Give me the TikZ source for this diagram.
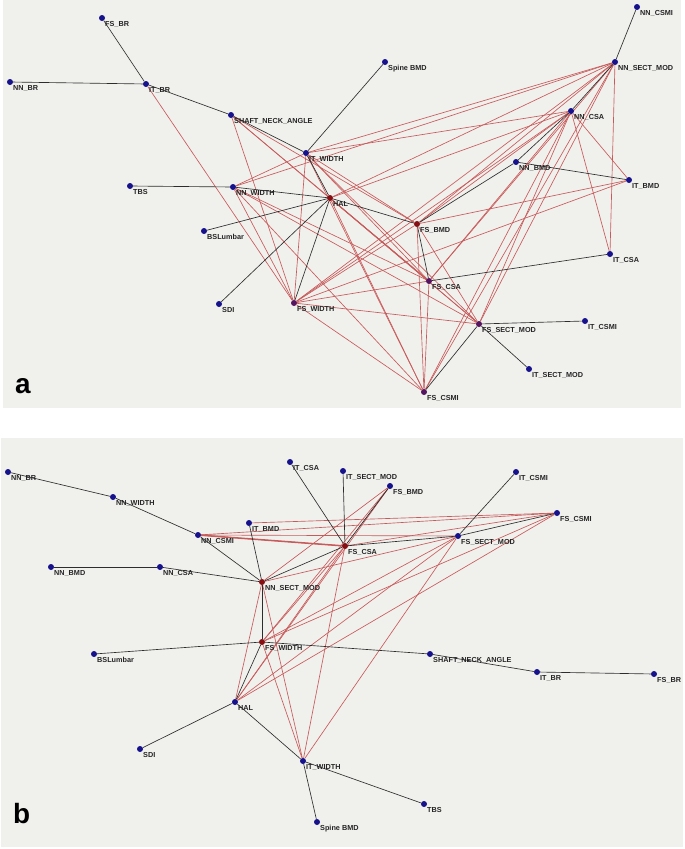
\documentclass[tikz,border=0pt]{standalone}
\usepackage{fontspec}
\setmainfont{Liberation Sans}
\pgfdeclarelayer{bg}
\pgfdeclarelayer{edges}
\pgfsetlayers{bg,edges,main}
\definecolor{panel}{RGB}{240,240,237}
\definecolor{dotblue}{RGB}{22,18,140}
\definecolor{dotred}{RGB}{135,15,20}
\definecolor{dotpurple}{RGB}{85,20,95}
\definecolor{redline}{RGB}{200,90,90}
\definecolor{blackline}{RGB}{45,45,45}
\tikzset{
  dot/.style={circle,fill=dotblue,inner sep=0pt,minimum size=6bp},
  rdot/.style={dot,fill=dotred},
  pdot/.style={dot,fill=dotpurple},
  lbl/.style={font=\bfseries\fontsize{7.3}{8}\selectfont,inner sep=0pt,anchor=north west,text=black!85},
  bl/.style={draw=blackline,line width=0.65bp},
  rl/.style={draw=redline,line width=0.65bp},
  letter/.style={font=\bfseries\fontsize{28}{28}\selectfont,inner sep=0pt,anchor=base west}
}
\newcommand\mynode[4]{\node[#1] (#2) at (#3) {};\node[lbl] (#2l) at ([xshift=3bp,yshift=-3.5bp]#2.center) {#4};}
\begin{document}
\begin{tikzpicture}[x=1bp,y=-1bp]
\useasboundingbox (0,0) rectangle (685,849);
\begin{pgfonlayer}{bg}
\fill[panel] (3,0) rectangle (681,408);
\fill[panel] (1,438) rectangle (683,847);
\end{pgfonlayer}
% ---------- panel a ----------
\mynode{dot}{aFSBR}{102,18}{FS\_BR}
\mynode{dot}{aNNBR}{10,82}{NN\_BR}
\mynode{dot}{aITBR}{146,84}{IT\_BR}
\mynode{dot}{aSNA}{231,115}{SHAFT\_NECK\_ANGLE}
\mynode{dot}{aITW}{306,153}{IT\_WIDTH}
\mynode{dot}{aTBS}{130,186}{TBS}
\mynode{dot}{aNNW}{233,187}{NN\_WIDTH}
\mynode{rdot}{aHAL}{330,198}{HAL}
\mynode{dot}{aNNCSMI}{637,7}{NN\_CSMI}
\mynode{dot}{aSpine}{385,62}{Spine BMD}
\mynode{dot}{aNNSM}{615,62}{NN\_SECT\_MOD}
\mynode{dot}{aNNCSA}{571,111}{NN\_CSA}
\mynode{dot}{aNNBMD}{516,162}{NN\_BMD}
\mynode{dot}{aITBMD}{629,180}{IT\_BMD}
\mynode{dot}{aBSL}{204,231}{BSLumbar}
\mynode{dot}{aSDI}{219,304}{SDI}
\mynode{pdot}{aFSW}{294,303}{FS\_WIDTH}
\mynode{rdot}{aFSBMD}{417,224}{FS\_BMD}
\mynode{dot}{aITCSA}{610,254}{IT\_CSA}
\mynode{pdot}{aFSCSA}{429,281}{FS\_CSA}
\mynode{pdot}{aFSSM}{479,324}{FS\_SECT\_MOD}
\mynode{dot}{aITCSMI}{585,321}{IT\_CSMI}
\mynode{dot}{aITSM}{529,369}{IT\_SECT\_MOD}
\mynode{pdot}{aFSCSMI}{424,392}{FS\_CSMI}
\node[letter] (la) at (15,393) {a};
% ---------- panel b ----------
\mynode{dot}{bNNBR}{8,472}{NN\_BR}
\mynode{dot}{bNNW}{113,497}{NN\_WIDTH}
\mynode{dot}{bNNCSMI}{198,535}{NN\_CSMI}
\mynode{dot}{bITBMD}{249,523}{IT\_BMD}
\mynode{dot}{bITCSA}{290,462}{IT\_CSA}
\mynode{dot}{bNNBMD}{51,567}{NN\_BMD}
\mynode{dot}{bNNCSA}{160,567}{NN\_CSA}
\mynode{rdot}{bNNSM}{262,582}{NN\_SECT\_MOD}
\mynode{dot}{bITSM}{343,471}{IT\_SECT\_MOD}
\mynode{dot}{bFSBMD}{390,486}{FS\_BMD}
\mynode{dot}{bITCSMI}{516,472}{IT\_CSMI}
\mynode{dot}{bFSCSMI}{557,513}{FS\_CSMI}
\mynode{rdot}{bFSCSA}{345,546}{FS\_CSA}
\mynode{dot}{bFSSM}{458,536}{FS\_SECT\_MOD}
\mynode{rdot}{bFSW}{262,642}{FS\_WIDTH}
\mynode{dot}{bBSL}{94,654}{BSLumbar}
\mynode{dot}{bHAL}{235,702}{HAL}
\mynode{dot}{bSDI}{140,749}{SDI}
\mynode{dot}{bITW}{303,761}{IT\_WIDTH}
\mynode{dot}{bSpine}{317,822}{Spine BMD}
\mynode{dot}{bSNA}{430,654}{SHAFT\_NECK\_ANGLE}
\mynode{dot}{bITBR}{537,672}{IT\_BR}
\mynode{dot}{bFSBR}{654,674}{FS\_BR}
\mynode{dot}{bTBS}{424,804}{TBS}
\node[letter] (lb) at (13,823) {b};
\begin{pgfonlayer}{edges}
% panel a red
\foreach \u/\v in {aNNSM/aITW,aNNSM/aNNW,aNNSM/aHAL,aNNSM/aFSBMD,aNNSM/aFSW,aNNSM/aFSCSA,aNNSM/aFSSM,aNNSM/aFSCSMI,aNNSM/aITCSA,
  aNNCSA/aITW,aNNCSA/aHAL,aNNCSA/aFSBMD,aNNCSA/aFSW,aNNCSA/aFSCSA,aNNCSA/aFSSM,aNNCSA/aFSCSMI,aNNCSA/aITBMD,aNNCSA/aITCSA,
  aITBMD/aFSBMD,aITBMD/aFSW,aITBR/aFSW,
  aSNA/aFSW,aSNA/aFSBMD,aSNA/aFSCSA,aSNA/aFSSM,
  aITW/aNNW,aITW/aFSW,aITW/aFSBMD,aITW/aFSCSA,aITW/aFSSM,aITW/aFSCSMI,
  aNNW/aFSW,aNNW/aFSSM,aNNW/aFSCSMI,aNNW/aFSCSA,
  aHAL/aFSCSMI,aHAL/aFSSM,aHAL/aFSCSA,
  aFSW/aFSBMD,aFSW/aFSCSA,aFSW/aFSSM,aFSW/aFSCSMI,
  aFSBMD/aFSSM,aFSBMD/aFSCSMI,aFSCSA/aFSCSMI}
  \draw[rl] (\u) -- (\v);
% panel a black
\foreach \u/\v in {aFSBR/aITBR,aNNBR/aITBR,aITBR/aSNA,aSNA/aITW,aITW/aSpine,aTBS/aNNW,aNNW/aHAL,aITW/aHAL,
  aHAL/aBSL,aHAL/aSDI,aHAL/aFSW,aHAL/aFSBMD,aNNCSMI/aNNSM,aNNSM/aNNCSA,aNNCSA/aNNBMD,aNNBMD/aITBMD,
  aFSBMD/aNNBMD,aFSBMD/aFSCSA,aFSCSA/aITCSA,aFSSM/aITCSMI,aFSSM/aITSM,aFSSM/aFSCSMI}
  \draw[bl] (\u) -- (\v);
% panel b red
\foreach \u/\v in {bNNCSMI/bFSCSA,bNNCSMI/bFSSM,bNNCSMI/bFSCSMI,bITBMD/bFSCSMI,
  bNNSM/bFSBMD,bNNSM/bFSSM,bNNSM/bHAL,bNNSM/bITW,
  bFSW/bFSBMD,bFSW/bFSCSA,bFSW/bFSSM,bFSW/bFSCSMI,bFSW/bITW,
  bHAL/bFSCSA,bHAL/bFSBMD,bHAL/bFSSM,bHAL/bFSCSMI,
  bITW/bFSCSA,bITW/bFSSM,bFSCSA/bFSCSMI}
  \draw[rl] (\u) -- (\v);
\draw[rl,line width=1.5bp] (bNNCSMI) -- (bFSCSA);
% panel b black
\foreach \u/\v in {bNNBR/bNNW,bNNW/bNNCSMI,bNNCSMI/bNNSM,bITBMD/bNNSM,bNNBMD/bNNCSA,bNNCSA/bNNSM,
  bITCSA/bFSCSA,bITSM/bFSCSA,bFSBMD/bFSCSA,bNNSM/bFSCSA,bNNSM/bFSW,bFSCSA/bFSSM,bFSSM/bFSCSMI,bFSSM/bITCSMI,
  bBSL/bFSW,bFSW/bSNA,bSNA/bITBR,bITBR/bFSBR,bFSW/bHAL,bHAL/bSDI,bHAL/bITW,bITW/bSpine,bITW/bTBS}
  \draw[bl] (\u) -- (\v);
\end{pgfonlayer}
\end{tikzpicture}
\end{document}
